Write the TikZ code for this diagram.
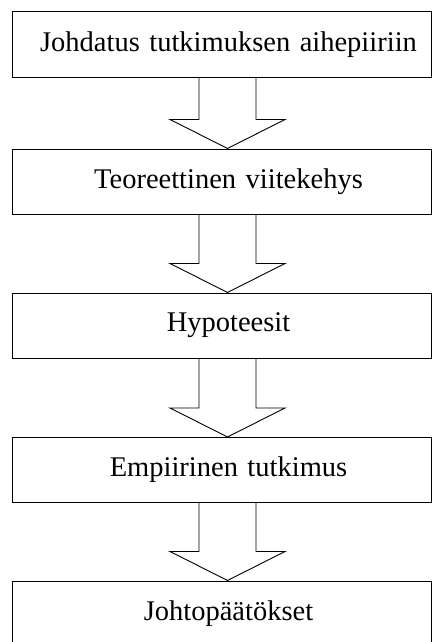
\documentclass[tikz,border=0pt]{standalone}
\usepackage{fontspec}
\setmainfont{Liberation Serif}
\usetikzlibrary{calc}

% hollow block arrow from the bottom of one box to the top of the next
\newcommand{\blockarrow}[2]{%
\draw [black] ($(#1.south)+(-22.5,0)$) -- ($(#2.north)+(-22.5,-29)$) -- ($(#2.north)+(-51.5,-29)$)
  -- ($(#2.north)+(6,0)$) -- ($(#2.north)+(63.5,-29)$) -- ($(#2.north)+(34.5,-29)$)
  -- ($(#1.south)+(34.5,0)$);}

\begin{document}
\begin{tikzpicture}[x=1pt,y=-1pt]
\tikzstyle{every node}+=[inner sep=0pt]
\tikzstyle{stage}=[draw=black, line width=1pt, minimum width=419pt, minimum height=65pt,
  font=\fontsize{28.5}{33}\selectfont, text width=419pt, align=center]
\useasboundingbox (0,0) rectangle (432,642);
\tikzset{every path/.style={line width=0.9pt}}
\node [stage] (intro) at (221.5,44.5) {\hspace*{14pt}Johdatus tutkimuksen aihepiiriin};
\node [stage] (theory) at (221.5,181.5) {\hspace*{14pt}Teoreettinen viitekehys};
\node [stage] (hypo) at (221.5,325.5) {\hspace*{14pt}Hypoteesit};
\node [stage] (empir) at (221.5,470) {\hspace*{14pt}Empiirinen tutkimus};
\node [stage] (concl) at (221.5,613.5) {\hspace*{14pt}Johtopäätökset};
\blockarrow{intro}{theory}
\blockarrow{theory}{hypo}
\blockarrow{hypo}{empir}
\blockarrow{empir}{concl}
\end{tikzpicture}
\end{document}
